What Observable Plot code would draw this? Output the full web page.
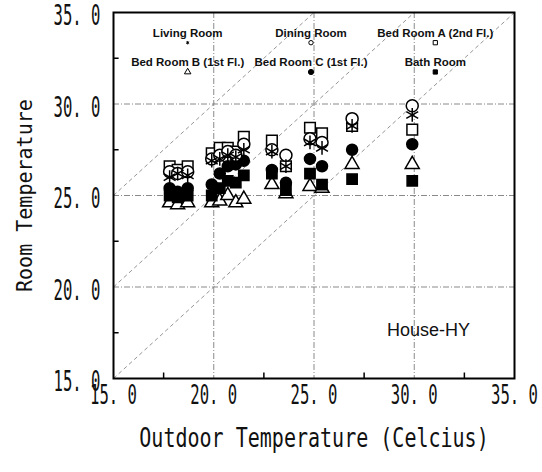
<!DOCTYPE html>
<html>
<head>
<meta charset="utf-8">
<script src="https://cdn.jsdelivr.net/npm/d3@7"></script>
<script src="https://cdn.jsdelivr.net/npm/@observablehq/plot@0.6"></script>
<style>
  body { margin: 0; background: #fff; }
  #chart svg { display: block; background: #fff; }
</style>
</head>
<body>
<div id="chart"></div>
<script>
// Outdoor temperature of each measurement (°C)
const outdoor = [17.8, 18.2, 18.7, 19.9, 20.3, 20.7, 21.1, 21.5, 22.9, 23.6, 24.8, 25.4, 26.9, 29.9];

// Room temperatures for each measurement (°C)
const livingRoom = [26.0, 26.2, 26.1, 26.9, 27.0, 27.2, 27.1, 27.5, 27.4, 26.6, 27.9, 27.6, 28.8, 29.4];
const diningRoom = [26.3, 26.2, 26.3, 27.0, 27.2, 27.4, 27.2, 27.8, 27.5, 27.2, 28.1, 27.9, 29.2, 29.9];
const bedRoomA   = [26.6, 26.4, 26.6, 27.3, 27.6, 27.6, 27.4, 28.2, 28.0, 26.6, 28.7, 28.4, 28.8, 28.6];
const bedRoomB   = [24.6, 24.5, 24.6, 24.6, 24.7, 25.0, 24.6, 24.8, 25.6, 25.1, 25.5, 25.4, 26.7, 26.7];
const bedRoomC   = [25.4, 25.2, 25.4, 25.6, 26.2, 26.6, 26.7, 26.9, 26.4, 25.7, 27.0, 26.6, 27.5, 27.8];
const bathRoom   = [25.0, 24.9, 25.0, 25.0, 25.4, 25.8, 25.7, 26.1, 26.2, 25.3, 26.2, 25.6, 25.9, 25.8];

const rooms = ["Living Room", "Dining Room", "Bed Room A (2nd Fl.)",
               "Bed Room B (1st Fl.)", "Bed Room C (1st Fl.)", "Bath Room"];

const xTicks = [15, 20, 25, 30, 35];
const yTicks = [15, 20, 25, 30, 35];
const gridValues = [20, 25, 30];
const minorTicks = [17.5, 22.5, 27.5, 32.5];
// reference lines: room = outdoor + offset
const diagonalOffsets = [0, 5, 10];

// symbol styling per room
const styles = [
  {symbol: "asterisk", fill: "none",  stroke: "black", r: 6.5, lr: 1.6},
  {symbol: "circle",   fill: "white", stroke: "black", r: 6,   lr: 2.2},
  {symbol: "square",   fill: "white", stroke: "black", r: 6,   lr: 2.4},
  {symbol: "triangle", fill: "white", stroke: "black", r: 5.2, lr: 2.4},
  {symbol: "circle",   fill: "black", stroke: "black", r: 5.5, lr: 2.6},
  {symbol: "square",   fill: "black", stroke: "black", r: 5.8, lr: 2.4}
];
const values = [livingRoom, diningRoom, bedRoomA, bedRoomB, bedRoomC, bathRoom];

// legend layout (data units inside the frame)
const legendCols = [18.7, 24.85, 31.05];
const legendTextRows = [33.85, 32.3];
const legendMarkRows = [33.35, 31.75];

const series = rooms.map((room, i) => ({
  room, ...styles[i],
  points: outdoor.map((x, j) => ({x, y: values[i][j]})),
  lx: legendCols[i % 3],
  ly: legendTextRows[Math.floor(i / 3)],
  my: legendMarkRows[Math.floor(i / 3)]
}));

// drawing order: open triangles, filled marks, then open squares/circles and asterisks on top
const drawOrder = [3, 5, 4, 2, 1, 0];

const fmt = d => d.toFixed(1).replace(".", ". ");
const mono = "DejaVu Sans Mono";

const chart = Plot.plot({
  width: 542,
  height: 472,
  marginLeft: 113,
  marginRight: 28,
  marginTop: 12,
  marginBottom: 94,
  x: {domain: [15, 35], axis: null},
  y: {domain: [15, 35], axis: null},
  marks: [
    // dash-dot grid
    Plot.ruleX(gridValues, {stroke: "#8a8a8a", strokeWidth: 1, strokeDasharray: "6,2,1,2"}),
    Plot.ruleY(gridValues, {stroke: "#8a8a8a", strokeWidth: 1, strokeDasharray: "6,2,1,2"}),
    // diagonal reference lines
    Plot.link(diagonalOffsets, {
      x1: 15, y1: d => 15 + d, x2: d => 35 - d, y2: 35,
      stroke: "#8a8a8a", strokeWidth: 0.9, strokeDasharray: "4,3"
    }),
    // inward minor ticks
    Plot.ruleX(minorTicks, {y1: 15, y2: 15.3, stroke: "black", strokeWidth: 1.5}),
    Plot.ruleY(minorTicks, {x1: 15, x2: 15.28, stroke: "black", strokeWidth: 1.5}),
    Plot.frame({stroke: "black", strokeWidth: 2}),
    // measurements
    ...drawOrder.map(i => {
      const s = series[i];
      return Plot.dot(s.points, {
        x: "x", y: "y", symbol: s.symbol, r: s.r,
        fill: s.fill, stroke: s.stroke, strokeWidth: 1.5
      });
    }),
    // in-frame legend
    Plot.text(series, {
      x: "lx", y: "ly", text: "room",
      fontFamily: "Liberation Sans", fontWeight: "bold", fontSize: 11.5, fill: "#111"
    }),
    ...series.map(s => Plot.dot([s], {
      x: "lx", y: "my", symbol: s.symbol, r: s.lr,
      fill: s.fill, stroke: s.stroke, strokeWidth: 1
    })),
    Plot.text(["House-HY"], {
      frameAnchor: "bottom-right", dx: -86, dy: -43, textAnchor: "middle",
      fontFamily: "Liberation Sans", fontSize: 18, fill: "#111"
    }),
    // tick labels
    Plot.text(xTicks, {
      x: d => d, frameAnchor: "bottom", dy: 25, text: fmt,
      fontFamily: mono, fontSize: 27, fill: "#111"
    }),
    Plot.text(yTicks, {
      y: d => d, frameAnchor: "left", dx: -13, dy: 4, textAnchor: "end", text: fmt,
      fontFamily: mono, fontSize: 27.5, fill: "#111"
    }),
    // axis titles
    Plot.text(["Outdoor Temperature (Celcius)"], {
      frameAnchor: "bottom", dy: 68, fontFamily: mono, fontSize: 26, fill: "#111"
    }),
    Plot.text(["Room Temperature"], {
      frameAnchor: "left", dx: -89, dy: 96.5, rotate: -90, textAnchor: "start",
      fontFamily: mono, fontSize: 22, fill: "#111"
    })
  ]
});

// condensed monospace lettering: fix the advance of each glyph by font size
const charWidth = {"27": 9.4, "27.5": 9.4, "26": 12.05, "22": 12.05};
d3.select(chart).selectAll("text").each(function () {
  const g = this.closest("g[font-family]");
  if (!g || g.getAttribute("font-family") !== mono) return;
  const w = charWidth[g.getAttribute("font-size")];
  if (!w) return;
  this.setAttribute("textLength", this.textContent.length * w);
  this.setAttribute("lengthAdjust", "spacingAndGlyphs");
});

document.getElementById("chart").append(chart);
</script>
</body>
</html>
